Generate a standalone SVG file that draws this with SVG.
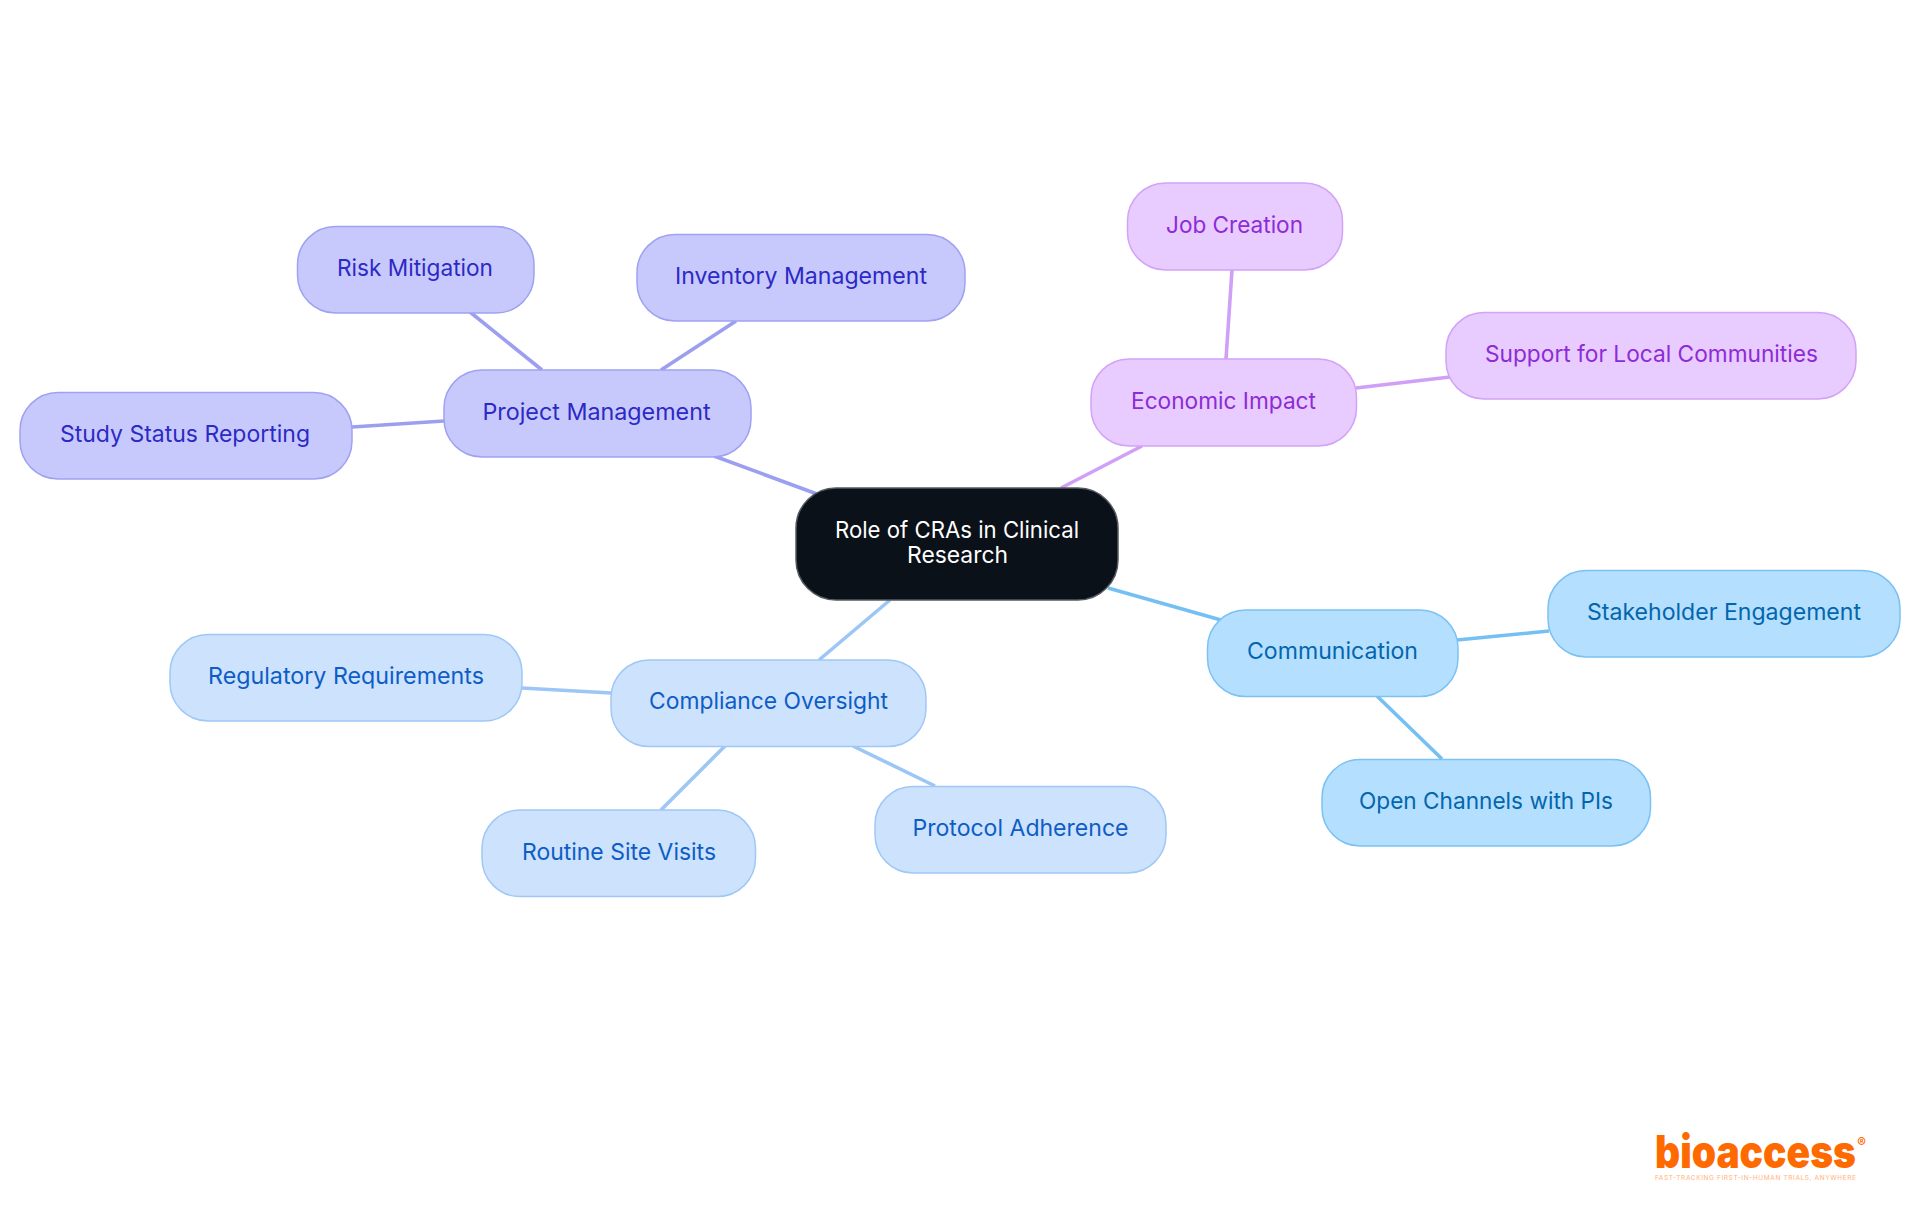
<svg xmlns="http://www.w3.org/2000/svg" width="1920" height="1215" viewBox="0 0 1920 1215">
<style>
text{font-family:"Inter","Noto Sans",sans-serif;font-size:23px;font-weight:370;text-anchor:middle}
rect{stroke-width:1.5}
line{stroke-width:3.6;fill:none}
.i rect{fill:#c7c9fd;stroke:#9fa2f1}.i text{fill:#2d29c4}.i-l{stroke:#9c9ff0}
.b rect{fill:#cde2fd;stroke:#9fc8f6}.b text{fill:#0d5dc6}.b-l{stroke:#9cc6f6}
.s rect{fill:#b4dfff;stroke:#7bc2f3}.s text{fill:#0366ad}.s-l{stroke:#75c0f3}
.p rect{fill:#e8cbff;stroke:#d2a3f6}.p text{fill:#8d2bd6}.p-l{stroke:#d09ff6}
</style>
<rect width="1920" height="1215" fill="#fff" style="stroke:none"/>
<g id="connectors">
<line class="i-l" x1="714" y1="456" x2="817" y2="494"/>
<line class="i-l" x1="470" y1="312" x2="542" y2="370"/>
<line class="i-l" x1="736" y1="321" x2="661" y2="370"/>
<line class="i-l" x1="352" y1="427" x2="444" y2="421"/>
<line class="p-l" x1="1142" y1="446" x2="1061" y2="488"/>
<line class="p-l" x1="1232" y1="270" x2="1226" y2="359"/>
<line class="p-l" x1="1450" y1="377" x2="1356" y2="388"/>
<line class="s-l" x1="1108" y1="588" x2="1221" y2="620"/>
<line class="s-l" x1="1549" y1="631" x2="1457" y2="640"/>
<line class="s-l" x1="1442" y1="759" x2="1377" y2="696"/>
<line class="b-l" x1="890" y1="600" x2="819" y2="660"/>
<line class="b-l" x1="522" y1="688" x2="611" y2="693"/>
<line class="b-l" x1="661" y1="810" x2="725" y2="746"/>
<line class="b-l" x1="935" y1="786" x2="853" y2="746"/>
</g>
<g id="root"><rect x="796" y="488" width="322" height="112" rx="40" fill="#0b1119" stroke="#555a60"/><text x="957" y="538" fill="#fff" textLength="244" lengthAdjust="spacingAndGlyphs">Role of CRAs in Clinical</text><text x="957.500" y="563" fill="#fff" textLength="101" lengthAdjust="spacingAndGlyphs">Research</text></g>
<g id="project" class="i"><rect x="444" y="370" width="307" height="87" rx="38"/><text x="596.500" y="420" textLength="228" lengthAdjust="spacingAndGlyphs">Project Management</text></g>
<g id="risk" class="i"><rect x="297.500" y="226.500" width="236.500" height="86.500" rx="38"/><text x="415" y="276" textLength="156" lengthAdjust="spacingAndGlyphs">Risk Mitigation</text></g>
<g id="inventory" class="i"><rect x="637" y="234.500" width="328" height="86.500" rx="38"/><text x="801" y="284" textLength="252" lengthAdjust="spacingAndGlyphs">Inventory Management</text></g>
<g id="study" class="i"><rect x="20" y="392.500" width="332" height="86.500" rx="38"/><text x="185" y="442" textLength="250" lengthAdjust="spacingAndGlyphs">Study Status Reporting</text></g>
<g id="economic" class="p"><rect x="1091" y="359" width="265.500" height="87" rx="38"/><text x="1223.500" y="409" textLength="185" lengthAdjust="spacingAndGlyphs">Economic Impact</text></g>
<g id="job" class="p"><rect x="1127.500" y="183" width="215" height="87" rx="38"/><text x="1234.500" y="233" textLength="137" lengthAdjust="spacingAndGlyphs">Job Creation</text></g>
<g id="support" class="p"><rect x="1446" y="312.500" width="410" height="86.500" rx="38"/><text x="1651.500" y="362" textLength="333" lengthAdjust="spacingAndGlyphs">Support for Local Communities</text></g>
<g id="communication" class="s"><rect x="1207.500" y="610" width="250.500" height="86.500" rx="38"/><text x="1332.500" y="659" textLength="171" lengthAdjust="spacingAndGlyphs">Communication</text></g>
<g id="stakeholder" class="s"><rect x="1548" y="570.500" width="352" height="86.500" rx="38"/><text x="1724" y="620" textLength="274" lengthAdjust="spacingAndGlyphs">Stakeholder Engagement</text></g>
<g id="open" class="s"><rect x="1322" y="759.500" width="328.500" height="86.500" rx="38"/><text x="1486" y="809" textLength="254" lengthAdjust="spacingAndGlyphs">Open Channels with PIs</text></g>
<g id="compliance" class="b"><rect x="611" y="660" width="315" height="86.500" rx="38"/><text x="768.500" y="709" textLength="239" lengthAdjust="spacingAndGlyphs">Compliance Oversight</text></g>
<g id="regulatory" class="b"><rect x="170" y="634.500" width="352" height="86.500" rx="38"/><text x="346" y="684" textLength="276" lengthAdjust="spacingAndGlyphs">Regulatory Requirements</text></g>
<g id="routine" class="b"><rect x="482" y="810" width="273.500" height="86.500" rx="38"/><text x="619" y="860" textLength="194" lengthAdjust="spacingAndGlyphs">Routine Site Visits</text></g>
<g id="protocol" class="b"><rect x="875" y="786.500" width="291" height="86.500" rx="38"/><text x="1020.500" y="836" textLength="216" lengthAdjust="spacingAndGlyphs">Protocol Adherence</text></g>
<g id="logo">
<text x="1655" y="1167.500" style="font-size:45px;font-weight:900;text-anchor:start;fill:#ff6a00" textLength="201" lengthAdjust="spacingAndGlyphs">bioaccess</text>
<text x="1861.500" y="1147" style="font-size:13px;font-weight:600;fill:#ff6a00">®</text>
<text x="1655" y="1180" style="font-size:6.500px;font-weight:400;text-anchor:start;fill:#ffb27a" textLength="201">FAST-TRACKING FIRST-IN-HUMAN TRIALS, ANYWHERE</text>
</g>
</svg>
